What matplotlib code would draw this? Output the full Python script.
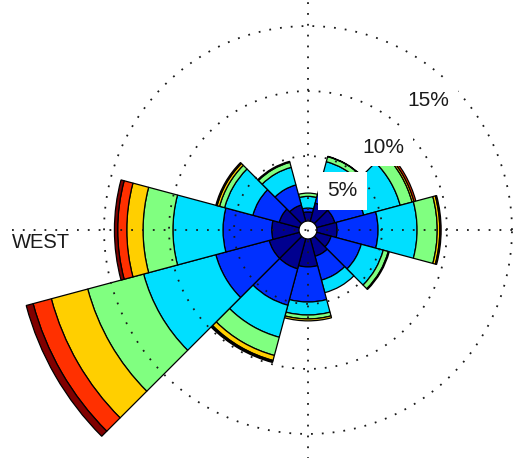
import numpy as np
import matplotlib.pyplot as plt
from matplotlib.patches import Wedge

# directions (degrees clockwise from north), 30 deg sectors
directions = [0, 30, 60, 90, 120, 150, 180, 210, 240, 270, 300, 330]

# frequency (%) of each speed class per direction
spd1 = [0.70, 1.45, 1.45, 1.55, 1.15, 1.40, 2.15, 2.40, 2.40, 2.10, 1.60, 1.30]
spd2 = [0.30, 2.00, 2.30, 3.15, 2.40, 1.90, 2.70, 2.90, 4.25, 3.75, 2.10, 1.60]
spd3 = [0.90, 1.30, 2.90, 3.00, 1.75, 1.00, 1.00, 2.55, 5.75, 3.85, 2.25, 1.40]
spd4 = [0.25, 0.40, 0.95, 1.55, 0.40, 0.00, 0.30, 1.45, 4.45, 2.30, 0.40, 0.40]
spd5 = [0.00, 0.03, 0.15, 0.20, 0.08, 0.00, 0.15, 0.40, 2.90, 1.25, 0.20, 0.08]
spd6 = [0.00, 0.00, 0.15, 0.10, 0.00, 0.00, 0.00, 0.08, 1.45, 0.70, 0.10, 0.00]
spd7 = [0.00, 0.00, 0.00, 0.00, 0.00, 0.00, 0.00, 0.08, 0.55, 0.25, 0.00, 0.00]

circles = [5, 10, 15]
circle_labels = ["5%", "10%", "15%"]

hole = 0.69   # empty centre radius, in %
width = 30

bins = np.array([spd1, spd2, spd3, spd4, spd5, spd6, spd7])
# matlab jet(64) sampled at 7 points
colors = [(0, 0, 0.5625), (0, 0.1875, 1), (0, 0.875, 1), (0.5, 1, 0.5),
          (1, 0.8125, 0), (1, 0.1875, 0), (0.5, 0, 0)]

fig = plt.figure(figsize=(5.18, 4.58), dpi=100)
ax = fig.add_axes([0, 0, 1, 1])
ax.set_xlim(-308 / 13, 210 / 13)
ax.set_ylim(-228 / 13, 230 / 13)
ax.axis("off")

for j, d in enumerate(directions):
    start = hole
    a1 = 90 - d - width / 2
    a2 = 90 - d + width / 2
    for i in range(len(bins)):
        v = bins[i, j]
        if v <= 0:
            continue
        w = Wedge((0, 0), start + v, a1, a2, width=v, facecolor=colors[i],
                  edgecolor="black", linewidth=0.9, zorder=1)
        ax.add_patch(w)
        start += v

# dotted grid
dots = (0, (1, 5))
t = np.linspace(0, 2 * np.pi, 400)
for c in circles:
    ax.plot((hole + c) * np.cos(t), (hole + c) * np.sin(t), color="0.1",
            lw=1.3, linestyle=dots, zorder=2)
ax.plot([-22.8, 22.8], [0, 0], color="0.1", lw=1.3, linestyle=dots, zorder=2)
ax.plot([0, 0], [-22.8, 22.8], color="0.1", lw=1.3, linestyle=dots, zorder=2)

# labels
lab_pos = [(2.62, 3.0), (5.77, 6.38), (9.23, 10.0)]
for (x, y), s in zip(lab_pos, circle_labels):
    ax.text(x, y, s, fontsize=15, family="Liberation Sans", color="0.1",
            ha="center", va="center", zorder=3,
            bbox=dict(boxstyle="square,pad=0.45", facecolor="white",
                      edgecolor="none"))

ax.text(-22.75, -0.95, "WEST", fontsize=14.5, family="Liberation Sans",
        color="0.1", ha="left", va="center", zorder=3)

fig.savefig("out.png", dpi=100)
